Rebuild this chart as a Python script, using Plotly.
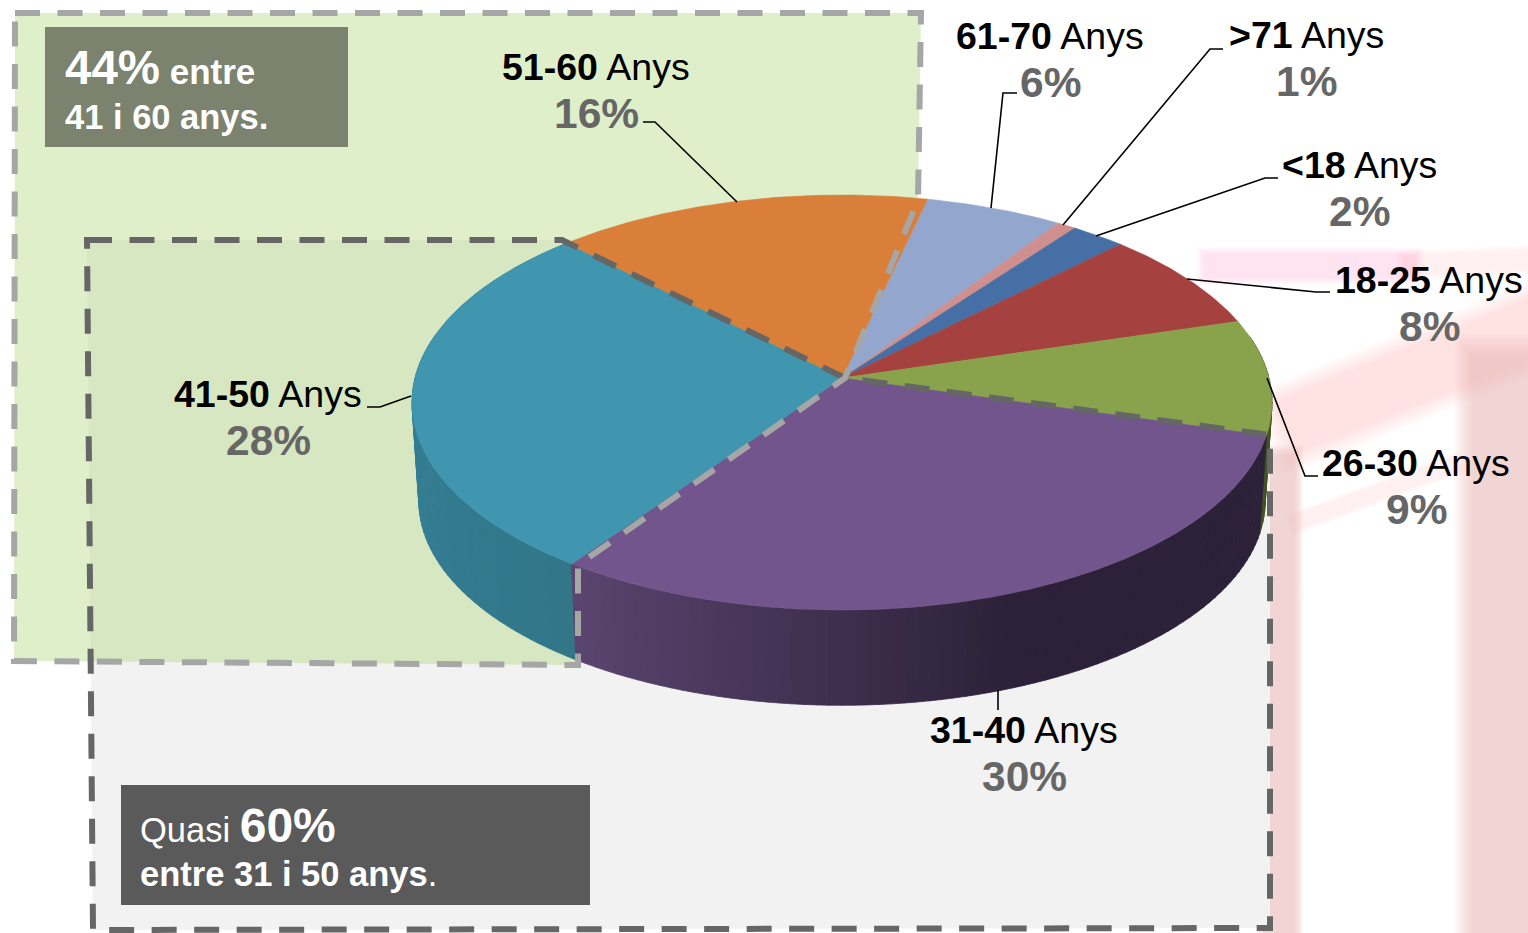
import math
import plotly.graph_objects as go

# ---------- data ----------
categories = ["61-70", ">71", "<18", "18-25", "26-30", "31-40", "41-50", "51-60"]
shares = [5.8, 0.8, 2.3, 7.9, 9.0, 30.3, 28.0, 15.9]      # slice sizes
pct_labels = [6, 1, 2, 8, 9, 30, 28, 16]                  # printed percentages
top_colors = ["#93A7CE", "#CF8F8F", "#4670A5", "#A54240", "#88A34B", "#71558C", "#4095AF", "#D97F39"]
side_from = {"26-30": (66, 84, 36), "31-40": (90, 70, 112), "41-50": (50, 118, 136), "51-60": (52, 132, 156)}
side_to = {"26-30": (60, 78, 32), "31-40": (44, 33, 56), "41-50": (52, 130, 155), "51-60": (52, 132, 156)}
start_angle = 12.9

# ---------- pie projection ----------
CX, CY, A, B, Q = 842.0, 378.0, 427.0, 204.6, 0.118
SCALE_LOW, CY_LOW = 0.984, 477.0


def project(deg, low=False):
    t = math.radians(deg)
    u, v = math.sin(t), -math.cos(t)
    w = 1 - Q * v
    s = SCALE_LOW if low else 1.0
    c = CY_LOW if low else CY
    return CX + s * A * u / w, c + s * B * v / w


bounds = [start_angle]
for s in shares:
    bounds.append(bounds[-1] + s * 3.6)


def arc(a0, a1, low=False, step=0.5):
    n = max(2, int(abs(a1 - a0) / step) + 1)
    return [project(a0 + (a1 - a0) * i / (n - 1), low) for i in range(n)]


fig = go.Figure()

# side wall: thin strips, back to front
strips = []
for i, name in enumerate(categories):
    if name not in side_from:
        continue
    a0, a1 = bounds[i], bounds[i + 1]
    a = max(a0, 78.0)
    b = min(a1, 282.0)
    n = max(1, int((b - a) / 1.5))
    for k in range(n):
        s0 = a + (b - a) * k / n
        s1 = a + (b - a) * (k + 1) / n + 0.05
        f = (k + 0.5) / n
        c0, c1 = side_from[name], side_to[name]
        if name == "31-40":
            # purple wall reaches its darkest right of the front
            f = min(1.0, (1 - f) * 1.95)
            col = tuple(round(c0[j] + (c1[j] - c0[j]) * f) for j in range(3))
        elif name == "41-50":
            col = tuple(round(c0[j] + (c1[j] - c0[j]) * f) for j in range(3))
        else:
            col = c0
        strips.append((abs((s0 + s1) / 2 - 180), s0, s1, col))
strips.sort(key=lambda r: -r[0])
for _, s0, s1, col in strips:
    pts = arc(s0, s1) + arc(s1, s0, low=True)
    pts.append(pts[0])
    c = f"rgb{col}"
    fig.add_trace(go.Scatter(x=[p[0] for p in pts], y=[p[1] for p in pts], mode="lines",
                             fill="toself", fillcolor=c, line=dict(color=c, width=0.8),
                             hoverinfo="skip", showlegend=False))

# top face
for i, name in enumerate(categories):
    pts = [(CX, CY)] + arc(bounds[i], bounds[i + 1]) + [(CX, CY)]
    fig.add_trace(go.Scatter(x=[p[0] for p in pts], y=[p[1] for p in pts], mode="lines",
                             fill="toself", fillcolor=top_colors[i],
                             line=dict(color=top_colors[i], width=0.6),
                             name=name, showlegend=False))

# ---------- page decoration ----------
shapes = []


def soft_band(x0, y0, x1, y1, width, color, alpha, layers=14):
    # faded ghost of the slide's background: many faint nested strokes with tapered ends
    dx, dy = x1 - x0, y1 - y0
    d = math.hypot(dx, dy) or 1.0
    ux, uy = dx / d, dy / d
    for j in range(layers):
        f = j / (layers - 1)
        w = width * (1.3 - 0.5 * f)
        inset = width * 0.3 * (f - 0.5)
        shapes.append(dict(type="line", layer="below",
                           x0=x0 + ux * inset, y0=y0 + uy * inset,
                           x1=x1 - ux * inset, y1=y1 - uy * inset,
                           line=dict(color=f"rgba({color},{alpha})", width=w)))


PINK = "245,190,195"
GREY = "215,215,215"
soft_band(1200, 266, 1420, 266, 30, PINK, 0.022)
soft_band(1400, 266, 1600, 256, 24, PINK, 0.016)
soft_band(1275, 432, 1600, 300, 70, PINK, 0.035)
soft_band(1290, 525, 1460, 462, 18, PINK, 0.02)
soft_band(1280, 450, 1280, 1000, 36, PINK, 0.06)
soft_band(1505, 345, 1505, 1000, 78, PINK, 0.06)
soft_band(1310, 575, 1470, 640, 50, GREY, 0.008)
soft_band(30, 700, 30, 1000, 70, GREY, 0.008)
soft_band(3, -50, 3, 660, 16, GREY, 0.008)

DARK_OUT = [(87, 240), (562, 240), (845, 378), (1270, 435), (1270, 928), (93, 930)]
LIGHT_OUT = [(15, 13), (921, 13), (918, 200), (845, 378), (578, 565), (578, 665), (14, 661)]


def path(pts):
    return "M" + " L".join(f"{x},{y}" for x, y in pts) + " Z"


shapes.append(dict(type="path", layer="below", path=path(DARK_OUT), fillcolor="#F2F2F2", line=dict(width=0)))
shapes.append(dict(type="path", layer="below", path=path(LIGHT_OUT), fillcolor="rgba(172,215,122,0.4)", line=dict(width=0)))
shapes.append(dict(type="path", layer="above", path=path(DARK_OUT), line=dict(color="#666666", width=6, dash="25px,17.5px")))
shapes.append(dict(type="path", layer="above", path=path(LIGHT_OUT), line=dict(color="#A6A6A6", width=6, dash="25px,17.5px")))

# callout boxes
shapes.append(dict(type="rect", layer="above", x0=45, y0=27, x1=348, y1=147, fillcolor="#7B826E", line=dict(width=0)))
shapes.append(dict(type="rect", layer="above", x0=121, y0=785, x1=590, y1=905, fillcolor="#5A5A5A", line=dict(width=0)))

# leader lines
leaders = [
    [(643, 122), (655, 122), (737, 202)],
    [(1017, 93), (1003, 93), (991, 208)],
    [(1223, 49), (1210, 49), (1063, 225)],
    [(1278, 178), (1265, 178), (1096, 236)],
    [(1330, 292), (1316, 292), (1187, 279)],
    [(1318, 476), (1305, 476), (1267, 378)],
    [(998, 690), (998, 710)],
    [(367, 407), (380, 407), (411, 396)],
]
for pts in leaders:
    shapes.append(dict(type="path", layer="above",
                       path="M" + " L".join(f"{x},{y}" for x, y in pts),
                       line=dict(color="#000000", width=1.6)))

# ---------- text ----------
FONT = "Liberation Sans"
label_pos = {"61-70": (1050, 36), ">71": (1306, 35), "<18": (1359, 165), "18-25": (1429, 280),
             "26-30": (1416, 463), "31-40": (1024, 730), "41-50": (268, 394), "51-60": (596, 67)}
annotations = []
for i, name in enumerate(categories):
    x, y = label_pos[name]
    annotations.append(dict(x=x, y=y, text=f"<b>{name}</b> Anys", showarrow=False, xanchor="center", yanchor="middle",
                            font=dict(family=FONT, size=37.5, color="#000000")))
    annotations.append(dict(x=x, y=y + 46, text=f"<b>{pct_labels[i]}%</b>", showarrow=False, xanchor="center", yanchor="middle",
                            font=dict(family=FONT, size=42.5, color="#666666")))

annotations += [
    dict(x=63, y=67, xanchor="left", yanchor="middle", showarrow=False,
         text='<b><span style="font-size:47.5px">44%</span> <span style="font-size:35px">entre</span></b>',
         font=dict(family=FONT, size=34.5, color="#FFFFFF")),
    dict(x=63, y=117, xanchor="left", yanchor="middle", showarrow=False,
         text="<b>41 i 60 anys.</b>", font=dict(family=FONT, size=34.5, color="#FFFFFF")),
    dict(x=138, y=825, xanchor="left", yanchor="middle", showarrow=False,
         text='Quasi <b><span style="font-size:48px">60%</span></b>',
         font=dict(family=FONT, size=34.5, color="#FFFFFF")),
    dict(x=138, y=874, xanchor="left", yanchor="middle", showarrow=False,
         text="<b>entre 31 i 50 anys</b>.", font=dict(family=FONT, size=34.5, color="#FFFFFF")),
]

fig.update_layout(
    width=1528, height=933, margin=dict(l=0, r=0, t=0, b=0),
    paper_bgcolor="#FFFFFF", plot_bgcolor="rgba(0,0,0,0)",
    xaxis=dict(range=[0, 1528], visible=False, fixedrange=True),
    yaxis=dict(range=[933, 0], visible=False, fixedrange=True),
    shapes=shapes, annotations=annotations, showlegend=False,
)
fig.write_html("out.html", config=dict(displayModeBar=False),
               post_script="document.body.style.margin='0';document.body.style.overflow='hidden';")
